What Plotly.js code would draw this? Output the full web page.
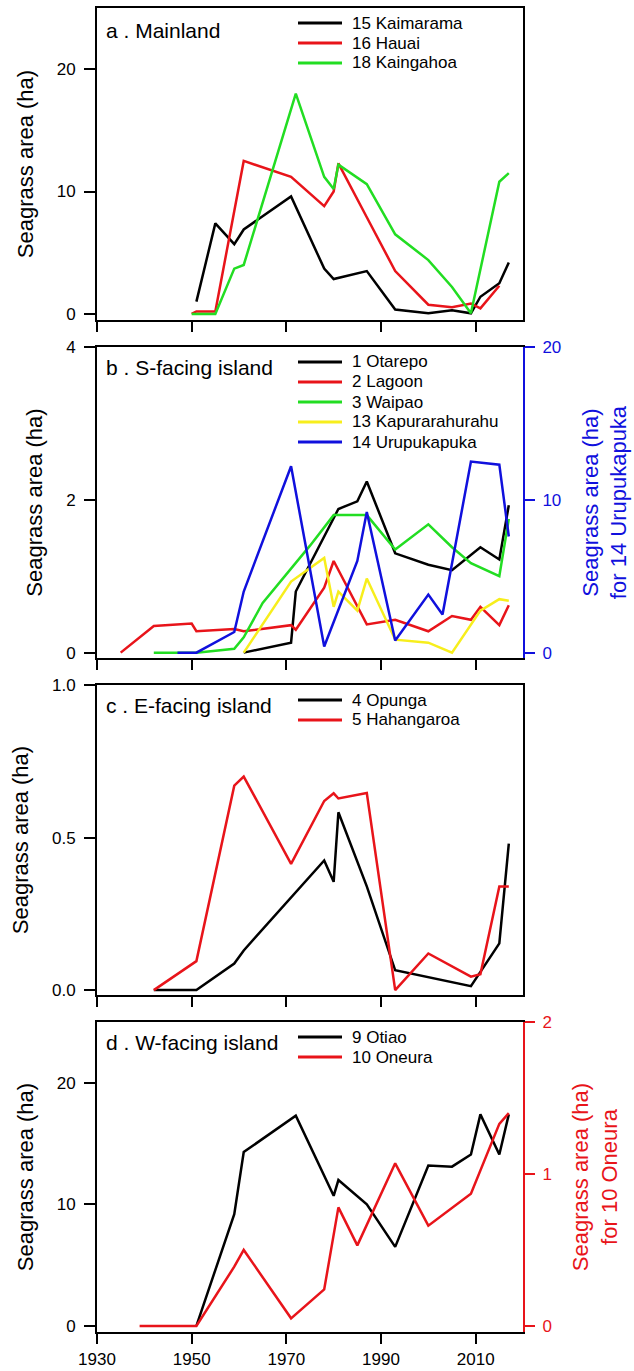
<!DOCTYPE html>
<html><head><meta charset="utf-8">
<script src="https://cdn.plot.ly/plotly-3.0.1.min.js"></script>
<style>html,body{margin:0;padding:0;background:#fff}</style>
</head><body><div id="chart" style="width:634px;height:1371px"></div>
<script>
// ---------- data ----------
const xTicks = [1930, 1950, 1970, 1990, 2010];

// a. Mainland
const kaimaramaYears = [1951, 1955, 1959, 1961, 1971, 1978, 1980, 1987, 1993, 2000, 2005, 2009, 2011, 2015, 2017];
const kaimaramaArea  = [1.0, 7.4, 5.7, 6.9, 9.6, 3.7, 2.85, 3.5, 0.35, 0.05, 0.3, 0.05, 1.4, 2.5, 4.2];
const hauaiYears = [1950, 1951, 1955, 1961, 1971, 1978, 1980, 1981, 1987, 1993, 2000, 2005, 2009, 2011, 2015];
const hauaiArea  = [0, 0.2, 0.2, 12.5, 11.2, 8.8, 10.0, 12.3, 7.9, 3.5, 0.75, 0.55, 0.85, 0.45, 2.3];
const kaingahoaYears = [1950, 1955, 1959, 1961, 1972, 1978, 1980, 1981, 1987, 1993, 2000, 2005, 2009, 2015, 2017];
const kaingahoaArea  = [0, 0, 3.7, 4.0, 18.0, 11.2, 10.2, 12.2, 10.6, 6.5, 4.4, 2.2, 0.05, 10.8, 11.5];

// b. S-facing island
const otarepoYears = [1961, 1971, 1972, 1981, 1985, 1987, 1993, 2000, 2005, 2011, 2015, 2017];
const otarepoArea  = [0, 0.13, 0.8, 1.88, 1.98, 2.24, 1.3, 1.15, 1.08, 1.38, 1.22, 1.93];
const lagoonYears = [1935, 1942, 1950, 1951, 1959, 1961, 1971, 1972, 1978, 1980, 1987, 1993, 2000, 2005, 2009, 2011, 2015, 2017];
const lagoonArea  = [0, 0.35, 0.38, 0.28, 0.31, 0.28, 0.36, 0.3, 0.85, 1.2, 0.37, 0.43, 0.28, 0.48, 0.43, 0.6, 0.36, 0.62];
const waipaoYears = [1942, 1951, 1959, 1961, 1965, 1971, 1975, 1980, 1987, 1993, 2000, 2005, 2009, 2015, 2017];
const waipaoArea  = [0, 0, 0.05, 0.2, 0.65, 1.1, 1.4, 1.8, 1.8, 1.35, 1.68, 1.38, 1.17, 1.0, 1.75];
const kapuraYears = [1961, 1971, 1978, 1980, 1981, 1985, 1987, 1993, 2000, 2005, 2011, 2015, 2017];
const kapuraArea  = [0, 0.93, 1.24, 0.6, 0.8, 0.55, 0.97, 0.17, 0.13, 0.0, 0.55, 0.7, 0.68];
const urupukapukaYears = [1947, 1951, 1959, 1961, 1971, 1978, 1985, 1987, 1993, 2000, 2003, 2009, 2015, 2017];
const urupukapukaArea  = [0, 0, 1.35, 4.0, 12.2, 0.4, 6.0, 9.2, 0.8, 3.8, 2.5, 12.5, 12.3, 7.6];

// c. E-facing island
const opungaYears = [1942, 1951, 1959, 1961, 1978, 1980, 1981, 1987, 1993, 2009, 2015, 2017];
const opungaArea  = [0, 0, 0.087, 0.13, 0.425, 0.355, 0.583, 0.34, 0.065, 0.013, 0.153, 0.48];
const hahangaroaYears = [1942, 1951, 1959, 1961, 1971, 1978, 1980, 1981, 1987, 1993, 2000, 2009, 2011, 2015, 2017];
const hahangaroaArea  = [0, 0.095, 0.67, 0.70, 0.414, 0.62, 0.645, 0.628, 0.646, 0.0, 0.12, 0.044, 0.052, 0.34, 0.34];

// d. W-facing island
const otiaoYears = [1951, 1959, 1961, 1972, 1980, 1981, 1987, 1993, 2000, 2005, 2009, 2011, 2015, 2017];
const otiaoArea  = [0, 9.2, 14.3, 17.3, 10.7, 12.0, 10.0, 6.5, 13.2, 13.1, 14.1, 17.4, 14.1, 17.4];
const oneuraYears = [1939, 1951, 1959, 1961, 1971, 1978, 1981, 1985, 1993, 2000, 2009, 2015, 2017];
const oneuraArea  = [0, 0, 0.39, 0.5, 0.05, 0.24, 0.78, 0.53, 1.07, 0.66, 0.87, 1.33, 1.4];

const panelLabels = ['a . Mainland', 'b . S-facing island', 'c . E-facing island', 'd . W-facing island'];
const yTitle = 'Seagrass area (ha)';

// ---------- styling / layout ----------
const FONT = 'Arial, "Liberation Sans", Helvetica, sans-serif';
const W = 634, H = 1371;
const BLACK = '#000000', RED = '#e8141a', GREEN = '#22dd22', YELLOW = '#f7ee1c', BLUE = '#1010dd';
const fx = p => p / W;
const fy = p => 1 - p / H;
const xd = [fx(97), fx(523)];
const panels = [[8, 320], [347, 658], [685, 995], [1022, 1332]];
const dom = i => [fy(panels[i][1]), fy(panels[i][0])];

function tr(x, y, name, color, xa, ya) {
  return {x: x, y: y, name: name, type: 'scatter', mode: 'lines',
    line: {color: color, width: 2.5}, xaxis: xa, yaxis: ya, showlegend: false};
}
const traces = [
  tr(kaimaramaYears, kaimaramaArea, '15 Kaimarama', BLACK, 'x', 'y'),
  tr(hauaiYears, hauaiArea, '16 Hauai', RED, 'x', 'y'),
  tr(kaingahoaYears, kaingahoaArea, '18 Kaingahoa', GREEN, 'x', 'y'),
  tr(otarepoYears, otarepoArea, '1 Otarepo', BLACK, 'x2', 'y2'),
  tr(lagoonYears, lagoonArea, '2 Lagoon', RED, 'x2', 'y2'),
  tr(waipaoYears, waipaoArea, '3 Waipao', GREEN, 'x2', 'y2'),
  tr(kapuraYears, kapuraArea, '13 Kapurarahurahu', YELLOW, 'x2', 'y2'),
  tr(urupukapukaYears, urupukapukaArea, '14 Urupukapuka', BLUE, 'x2', 'y3'),
  tr(opungaYears, opungaArea, '4 Opunga', BLACK, 'x3', 'y4'),
  tr(hahangaroaYears, hahangaroaArea, '5 Hahangaroa', RED, 'x3', 'y4'),
  tr(otiaoYears, otiaoArea, '9 Otiao', BLACK, 'x4', 'y5'),
  tr(oneuraYears, oneuraArea, '10 Oneura', RED, 'x4', 'y6')
];

function xax(anchor, labels) {
  return {domain: xd, anchor: anchor, range: [1930, 2020], tickvals: xTicks,
    ticks: 'outside', ticklen: 10, tickwidth: 2, tickcolor: BLACK,
    showline: true, linewidth: 2, linecolor: BLACK, mirror: true,
    showgrid: false, zeroline: false, showticklabels: labels,
    tickfont: {size: 17, color: BLACK}, ticklabelstandoff: 1, fixedrange: true};
}
function yax(i, anchor, range, ticks, mirror, fmt) {
  return {domain: dom(i), anchor: anchor, range: range, tickvals: ticks,
    tickformat: fmt || '', ticks: 'outside', ticklen: 11, tickwidth: 2, tickcolor: BLACK,
    showline: true, linewidth: 2, linecolor: BLACK, mirror: mirror,
    showgrid: false, zeroline: false, tickfont: {size: 17, color: BLACK},
    ticklabelstandoff: 5,
    title: {text: yTitle, font: {size: 22, color: BLACK}, standoff: 17}, fixedrange: true};
}
function yright(i, overl, anchor, range, ticks, color, title, standoff) {
  return {domain: dom(i), overlaying: overl, anchor: anchor, side: 'right',
    range: range, tickvals: ticks, ticks: 'outside', ticklen: 10, tickwidth: 2,
    tickcolor: color, showline: true, linewidth: 2, linecolor: color,
    showgrid: false, zeroline: false, tickfont: {size: 17, color: color},
    ticklabelstandoff: 4,
    title: {text: title, font: {size: 22, color: color}, standoff: standoff}, fixedrange: true};
}

const layout = {
  width: W, height: H, margin: {l: 0, r: 0, t: 0, b: 0},
  paper_bgcolor: '#fff', plot_bgcolor: '#fff',
  font: {family: FONT, color: BLACK},
  showlegend: false,
  xaxis: xax('y', false),
  xaxis2: xax('y2', false),
  xaxis3: xax('y4', false),
  xaxis4: xax('y5', true),
  yaxis: yax(0, 'x', [-0.5, 25], [0, 10, 20], true),
  yaxis2: yax(1, 'x2', [-0.07, 4], [0, 2, 4], false),
  yaxis3: yright(1, 'y2', 'x2', [-0.35, 20], [0, 10, 20], BLUE, 'Seagrass area (ha)<br>for 14 Urupukapuka', 22),
  yaxis4: yax(2, 'x3', [-0.016, 1.0], [0, 0.5, 1.0], true, '.1f'),
  yaxis5: yax(3, 'x4', [-0.5, 25], [0, 10, 20], false),
  yaxis6: yright(3, 'y5', 'x4', [-0.04, 2], [0, 1, 2], RED, 'Seagrass area (ha)<br>for 10 Oneura', 22),
  shapes: [], annotations: []
};

// panel labels
const labelY = [31, 367, 705, 1042];
panelLabels.forEach((t, i) => {
  layout.annotations.push({xref: 'paper', yref: 'paper', x: fx(104), y: fy(labelY[i]),
    xanchor: 'left', yanchor: 'middle', text: t, showarrow: false,
    font: {size: 21, color: BLACK}});
});

// legends (keys built from the traces)
const legendGroups = [
  {idx: [0, 1, 2], top: 23},
  {idx: [3, 4, 5, 6, 7], top: 362},
  {idx: [8, 9], top: 700},
  {idx: [10, 11], top: 1037}
];
legendGroups.forEach(g => {
  g.idx.forEach((k, j) => {
    const yc = g.top + j * 20;
    layout.shapes.push({type: 'line', xref: 'paper', yref: 'paper',
      x0: fx(298), x1: fx(342), y0: fy(yc), y1: fy(yc),
      line: {color: traces[k].line.color, width: 3}});
    layout.annotations.push({xref: 'paper', yref: 'paper', x: fx(350), y: fy(yc),
      xanchor: 'left', yanchor: 'middle', text: traces[k].name, showarrow: false,
      font: {size: 17, color: BLACK}});
  });
});

Plotly.newPlot('chart', traces, layout, {staticPlot: true, displayModeBar: false});
</script>
</body></html>
